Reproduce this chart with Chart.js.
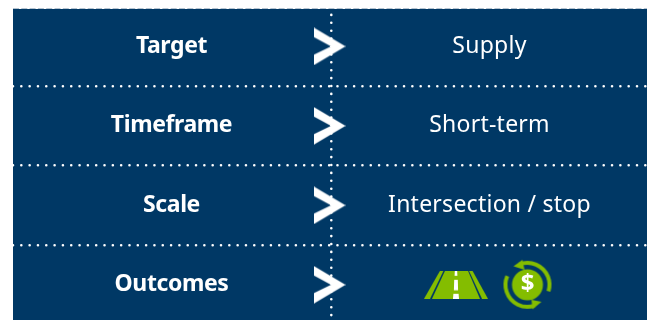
<!DOCTYPE html>
<html>
<head>
<meta charset="utf-8">
<style>html,body{margin:0;padding:0;background:#fff;overflow:hidden}canvas{display:block}</style>
<script src="https://cdn.jsdelivr.net/npm/chart.js@4"></script>
</head>
<body>
<canvas id="c" width="652" height="320"></canvas>
<script>
const leftLabels = ['Target', 'Timeframe', 'Scale', 'Outcomes'];
const rightLabels = ['Supply', 'Short-term', 'Intersection / stop', ''];
const rowCenters = [0.5, 1.5, 2.5, 3.5];
const rowLines = [1, 2, 3];
const columnSplit = [331.5];
const leftColumn = 171.5;
const rightColumn = 489.5;
const chevronColumn = 329.5;
const roadColumn = 456;
const dollarColumn = 527.5;
const iconRow = 3.5;

const NAVY = '#003865', GREEN = '#84bd00', WHITE = '#ffffff';

function sprite(w, h, draw) {
  const cv = document.createElement('canvas');
  cv.width = w; cv.height = h;
  draw(cv.getContext('2d'));
  return cv;
}
function poly(g, pts, fill) {
  g.fillStyle = fill; g.beginPath();
  pts.forEach((p, i) => i ? g.lineTo(p[0], p[1]) : g.moveTo(p[0], p[1]));
  g.closePath(); g.fill();
}
const chevron = sprite(32, 38, g => poly(g, [[0,0],[32,19],[0,38],[0,27.5],[17.5,19],[0,9.5]], WHITE));
const road = sprite(64, 28, g => {
  poly(g, [[16,0],[19.5,0],[6,28],[0,28]], GREEN);
  poly(g, [[45,0],[48.5,0],[64,28],[58,28]], GREEN);
  poly(g, [[21,0],[44,0],[56,28],[8,28]], GREEN);
  poly(g, [[30.8,0],[33.2,0],[33.4,5],[30.6,5]], WHITE);
  poly(g, [[30.2,9],[33.8,9],[34.1,19.5],[29.9,19.5]], WHITE);
  poly(g, [[29.4,23],[34.6,23],[35,28],[29,28]], WHITE);
});
const dollar = sprite(52, 52, g => {
  const c = 26, r = 22;
  g.fillStyle = GREEN; g.beginPath(); g.arc(c, c, 15.5, 0, Math.PI * 2); g.fill();
  g.strokeStyle = GREEN; g.lineWidth = 4;
  g.beginPath(); g.arc(c, c, r, -1.95, 0.3); g.stroke();
  g.beginPath(); g.arc(c, c, r, 1.25, 3.55); g.stroke();
  poly(g, [[12,7.5],[21,1],[23,11]], GREEN);
  poly(g, [[30,41],[40,43],[31,50.5]], GREEN);
});

const rowFont = (weight, size) => weight + ' ' + size + 'px "Noto Sans"';
const panelPlugin = {
  id: 'panel',
  beforeDraw(chart) {
    const { ctx, chartArea: a } = chart;
    ctx.save();
    ctx.fillStyle = NAVY;
    ctx.fillRect(a.left, a.top, a.right - a.left, a.bottom - a.top);
    ctx.strokeStyle = '#b4c2cf';
    ctx.lineWidth = 1;
    ctx.setLineDash([6, 2.3]);
    ctx.beginPath(); ctx.moveTo(a.left, a.top - 0.5); ctx.lineTo(a.right, a.top - 0.5); ctx.stroke();
    ctx.restore();
    ctx.lineCap = 'round';
  },
  afterDatasetsDraw(chart) {
    const { ctx, scales: { x, y } } = chart;
    ctx.save();
    ctx.lineCap = 'butt';
    ctx.fillStyle = WHITE;
    ctx.textAlign = 'center';
    ctx.textBaseline = 'middle';
    leftLabels.forEach((t, i) => {
      ctx.font = rowFont('700', 23);
      ctx.letterSpacing = '-0.4px';
      ctx.fillText(t, x.getPixelForValue(leftColumn), y.getPixelForValue(rowCenters[i]));
    });
    rightLabels.forEach((t, i) => {
      if (!t) return;
      ctx.font = rowFont('400', 23);
      ctx.letterSpacing = '0.25px';
      ctx.fillText(t, x.getPixelForValue(rightColumn), y.getPixelForValue(rowCenters[i]));
    });
    ctx.letterSpacing = '0px';
    ctx.font = rowFont('700', 24);
    ctx.fillText('$', x.getPixelForValue(dollarColumn), y.getPixelForValue(iconRow) - 0.5);
    ctx.restore();
  }
};

new Chart(document.getElementById('c'), {
  type: 'scatter',
  data: {
    datasets: [
      { label: 'chevrons', data: rowCenters.map(v => ({ x: chevronColumn, y: v })), pointStyle: chevron },
      { label: 'road', data: [{ x: roadColumn, y: iconRow }], pointStyle: road },
      { label: 'dollar', data: [{ x: dollarColumn, y: iconRow }], pointStyle: dollar }
    ]
  },
  options: {
    responsive: false,
    animation: false,
    events: [],
    clip: false,
    layout: { autoPadding: false, padding: { left: 13, right: 5, top: 9, bottom: 0 } },
    plugins: { legend: { display: false }, tooltip: { enabled: false } },
    scales: {
      x: {
        type: 'linear', min: 13, max: 647,
        afterBuildTicks: s => { s.ticks = columnSplit.map(value => ({ value })); },
        afterFit: s => { s.height = 0; },
        ticks: { display: false },
        grid: { color: WHITE, lineWidth: 2.6, drawTicks: false },
        border: { display: false, dash: [0, 7.9], dashOffset: 2 }
      },
      y: {
        type: 'linear', reverse: true, min: 0.03, max: 3.943,
        afterBuildTicks: s => { s.ticks = rowLines.map(value => ({ value })); },
        afterFit: s => { s.width = 0; },
        ticks: { display: false },
        grid: { color: WHITE, lineWidth: 2.6, drawTicks: false },
        border: { display: false, dash: [0, 8.32] }
      }
    }
  },
  plugins: [panelPlugin]
});
</script>
</body>
</html>
